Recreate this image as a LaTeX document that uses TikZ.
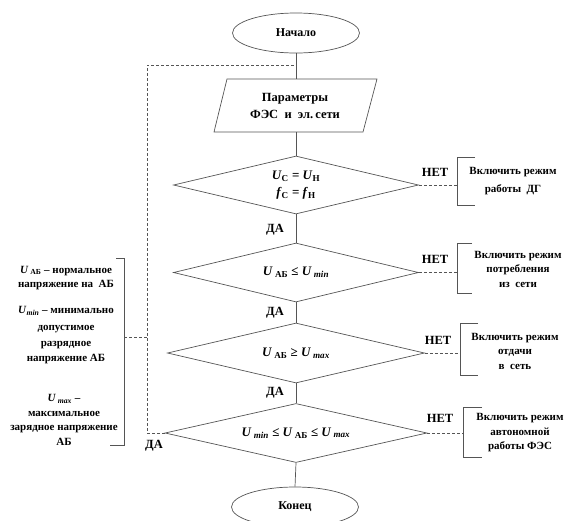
\documentclass[tikz,border=0pt]{standalone}
\usepackage{fontspec}
\setmainfont{Liberation Serif}
\usetikzlibrary{shapes.geometric, positioning}
\definecolor{trait}{RGB}{85, 85, 85}

\tikzset{
    bloc/.style={draw=trait, line width=0.7pt, font=\bfseries\fontsize{12.5}{15}\selectfont, align=center, inner sep=0pt},
    termin/.style={bloc, ellipse, minimum width=127pt, minimum height=40pt},
    test/.style={bloc, diamond, shape aspect=4.2, font=\bfseries\fontsize{13}{15}\selectfont},
    lien/.style={draw=trait, line width=0.7pt},
    retour/.style={draw=trait, line width=0.7pt, dash pattern=on 3pt off 2pt},
    etiq/.style={font=\bfseries\fontsize{12.5}{14}\selectfont, inner sep=0pt},
    note/.style={font=\bfseries\fontsize{11}{14.5}\selectfont, align=center, inner sep=0pt},
}

\begin{document}
\begin{tikzpicture}[x=1pt, y=-1pt]
    \useasboundingbox (0,0) rectangle (565,520);

    % Blocs principaux
    \node[termin, font=\bfseries\fontsize{12}{14}\selectfont] (debut) at (296,33) {Начало};

    % Parallelogramme des parametres
    \draw[lien] (227,79) -- (377,79) -- (363,132) -- (214,132) -- cycle;
    \coordinate (paramH) at (296,79);
    \coordinate (paramB) at (296,132);
    \node[bloc, draw=none] (param) at (295,105.5) {Параметры\\[2pt]ФЭС\ \ и\ \ эл.\,сети};

    \node[test, minimum width=245pt, minimum height=58pt] (t1) at (296,185)
        {\textit{U}\textsubscript{С} = \textit{U}\textsubscript{Н}\\[2pt]\textit{f}\textsubscript{С} = \textit{f}\textsubscript{Н}};
    \node[test, minimum width=245pt, minimum height=59pt] (t2) at (296,272.5)
        {\textit{U}\,\textsubscript{АБ} ≤ \textit{U}\,\textsubscript{\textit{min}}};
    \node[test, minimum width=257pt, minimum height=60pt] (t3) at (296,353)
        {\textit{U}\,\textsubscript{АБ} ≥ \textit{U}\,\textsubscript{\textit{max}}};
    \node[test, minimum width=262pt, minimum height=59pt] (t4) at (296,433)
        {\textit{U}\,\textsubscript{\textit{min}} ≤ \textit{U}\,\textsubscript{АБ} ≤ \textit{U}\,\textsubscript{\textit{max}}};
    \node[termin, font=\bfseries\fontsize{12}{14}\selectfont] (fin) at (295,507) {Конец};

    % Liaisons
    \draw[lien] (debut) -- (paramH);
    \draw[lien] (paramB) -- (t1.north);
    \draw[lien] (t1.south) -- (t2.north);
    \draw[lien] (t2.south) -- (t3.north);
    \draw[lien] (t3.south) -- (t4.north);
    \draw[lien] (t4.south) -- (fin.north);

    \node[etiq] (oui1) at (275,230) {ДА};
    \node[etiq] (oui2) at (275,313) {ДА};
    \node[etiq] (oui3) at (275,393) {ДА};

    % Branches НЕТ
    \node[etiq] (non1) at (435,172) {НЕТ};
    \draw[retour] (t1.east) -- (457,185);
    \draw[lien] (475,157) -- (457,157) -- (457,205) -- (475,205);
    \node[note] (mode1) at (513,181) {Включить режим\\[3pt]работы\ \ ДГ};

    \node[etiq] (non2) at (435,259) {НЕТ};
    \draw[retour] (t2.east) -- (457,272.5);
    \draw[lien] (472,243) -- (457,243) -- (457,293) -- (472,293);
    \node[note] (mode2) at (518,269) {Включить режим\\потребления\\из\ \ сети};

    \node[etiq] (non3) at (438,340) {НЕТ};
    \draw[retour] (t3.east) -- (460,353);
    \draw[lien] (478,323) -- (460,323) -- (460,375) -- (478,375);
    \node[note] (mode3) at (515,351) {Включить режим\\отдачи\\в\ \ сеть};

    \node[etiq] (non4) at (440,418) {НЕТ};
    \draw[retour] (t4.east) -- (463,433);
    \draw[lien] (482,407) -- (463,407) -- (463,457) -- (482,457);
    \node[note] (mode4) at (520,433) {Включить режим\\автономной\\работы ФЭС};

    % Retour ДА et notes
    \coordinate (haut) at (147,65);
    \draw[retour] (t4.west) -| (haut) -- (haut -| debut);
    \node[etiq] (oui4) at (154,446) {ДА};

    \coordinate (crochet) at (124,337);
    \draw[lien] (116,258) -- (124,258) -- (124,445) -- (110,445);
    \draw[retour] (crochet) -- (crochet -| haut);

    \node[note] (def1) at (66,278) {\textit{U}\,\textsubscript{АБ} – нормальное\\напряжение на\ \ АБ};
    \node[note] (def2) at (66,335) {\textit{U}\textsubscript{\textit{min}} – минимально\\[2pt]допустимое\\[2pt]разрядное\\напряжение АБ};
    \node[note] (def3) at (64,420) {\textit{U}\,\textsubscript{\textit{max}} –\\максимальное\\зарядное напряжение\\АБ};
\end{tikzpicture}
\end{document}
